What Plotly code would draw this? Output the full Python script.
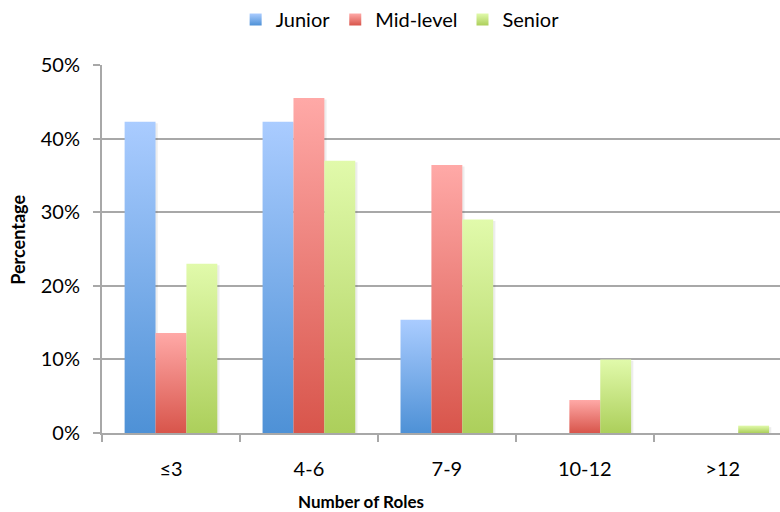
import plotly.graph_objects as go

# Share of respondents by number of roles held, per seniority level
categories = ["≤3", "4-6", "7-9", "10-12", ">12"]
series_names = ["Junior", "Mid-level", "Senior"]
junior = [42.3, 42.3, 15.4, 0.0, 0.0]
mid_level = [13.6, 45.5, 36.4, 4.5, 0.0]
senior = [23.0, 37.0, 29.0, 10.0, 1.0]
y_ticks = [0, 10, 20, 30, 40, 50]
y_tick_text = [f"{t}%" for t in y_ticks]

# (bottom colour, top colour) of each series' vertical gradient
gradients = [
    ("#4E91D6", "#AACCFF"),
    ("#D8554B", "#FFA9A7"),
    ("#ACCF5B", "#E1FAAB"),
]

BAR_W = 0.224          # width of a single bar, in category units
SHADOW_DX = 0.016      # soft drop shadow offset, in category units
GRID = "#A8A8A8"
FONT = "Lato"

fig = go.Figure()

for j, (name, values, (bottom, top)) in enumerate(
        zip(series_names, [junior, mid_level, senior], gradients)):
    # Legend swatch
    fig.add_trace(go.Scatter(
        x=[None], y=[None], mode="markers", name=name, legendgroup=name,
        marker=dict(symbol="square", size=12, color=top,
                    gradient=dict(type="vertical", color=bottom),
                    line=dict(width=0)),
    ))
    # One filled rectangle per bar so each bar gets its own gradient
    for i, v in enumerate(values):
        if v <= 0:
            continue
        c = i + (j - 1) * BAR_W
        x0, x1 = c - BAR_W / 2, c + BAR_W / 2
        # faint shadow to the right of the bar
        fig.add_trace(go.Scatter(
            x=[x0 + SHADOW_DX, x1 + SHADOW_DX, x1 + SHADOW_DX, x0 + SHADOW_DX],
            y=[0, 0, v - 0.2, v - 0.2],
            mode="none", fill="toself", fillcolor="rgba(0,0,0,0.07)",
            showlegend=False, hoverinfo="skip",
        ))
        fig.add_trace(go.Scatter(
            x=[x0, x1, x1, x0, x0], y=[0, 0, v, v, 0],
            mode="none", fill="toself",
            fillgradient=dict(type="vertical",
                              colorscale=[[0, bottom], [1, top]]),
            name=name, legendgroup=name, showlegend=False,
            hovertemplate=f"{name}<br>{categories[i]}: {v}%<extra></extra>",
        ))

fig.update_layout(
    width=780, height=512,
    margin=dict(l=102, r=0, t=65, b=79),
    paper_bgcolor="white", plot_bgcolor="white",
    font=dict(family=FONT, size=20, color="#000000"),
    showlegend=True,
    legend=dict(orientation="h", xref="container", yref="container",
                x=0.513, xanchor="center", y=1.0, yanchor="top",
                font=dict(family=FONT, size=20), itemwidth=30,
                tracegroupgap=0, traceorder="normal"),
    xaxis=dict(
        range=[-0.5, 4.415], showgrid=False, zeroline=False,
        tickmode="array", tickvals=list(range(len(categories))),
        ticktext=categories, ticks="", ticklabelstandoff=17,
        showline=True, linecolor=GRID, linewidth=2,
        minor=dict(tickmode="array",
                   tickvals=[k - 0.5 for k in range(len(categories) + 1)],
                   ticks="outside", ticklen=7, tickwidth=2, tickcolor=GRID),
        fixedrange=True,
    ),
    yaxis=dict(
        range=[0, 50], tickmode="array", tickvals=y_ticks,
        ticktext=y_tick_text,
        showgrid=True, gridcolor=GRID, gridwidth=2, zeroline=False,
        showline=True, linecolor=GRID, linewidth=2,
        ticks="outside", ticklen=7, tickwidth=2, tickcolor=GRID,
        ticklabelstandoff=9, fixedrange=True,
    ),
    annotations=[
        dict(text="<b>Number of Roles</b>", xref="paper", yref="paper",
             x=0.382, y=-0.185, xanchor="center", yanchor="middle",
             showarrow=False, font=dict(family=FONT, size=17)),
        dict(text="<b>Percentage</b>", xref="paper", yref="paper",
             x=-0.124, y=0.525, xanchor="center", yanchor="middle",
             textangle=-90, showarrow=False,
             font=dict(family=FONT, size=18)),
    ],
)

fig.write_html("out.html")
